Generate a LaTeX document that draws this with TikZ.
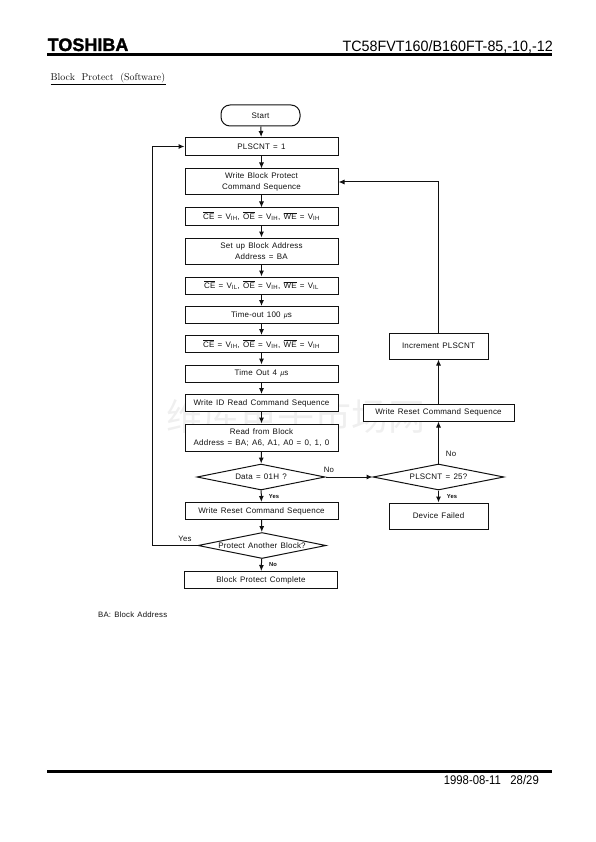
\documentclass[tikz,border=0pt]{standalone}
\usepackage{fontspec}
\usepackage{xcolor}
\usetikzlibrary{arrows.meta,shapes.geometric}
\setmainfont[LetterSpace=2.5,WordSpace=1.35]{Liberation Sans}
\newfontfamily\plainfont{Liberation Sans}
\newfontfamily\titlefont{Latin Modern Roman}
\newfontfamily\logofont[FakeBold=1.6]{Liberation Sans Bold}
\newfontfamily\cjkfont{Noto Sans CJK SC}
\definecolor{Ink}{HTML}{111111}
\definecolor{Mark}{HTML}{EFEFEF}
\newcommand{\ovl}[1]{$\overline{\hbox{#1}}$}
\newcommand{\lvl}[2]{\ovl{#1} = V\textsubscript{#2}}
\newcommand{\usec}{{\scriptsize\itshape µ}s}

\begin{document}
\begin{tikzpicture}[x=1pt,y=-1pt,
    every node/.style={font=\fontsize{8}{10.5}\selectfont, text=Ink, align=center, inner sep=0pt},
    proc/.style={draw=Ink, fill=white, line width=1pt, minimum width=153pt},
    side/.style={draw=Ink, fill=white, line width=1pt, minimum width=99pt},
    decision/.style={draw=Ink, fill=white, diamond, line width=1pt, minimum width=128pt, minimum height=26pt},
    tag/.style={font=\fontsize{7.8}{9}\selectfont},
    smalltag/.style={font=\fontsize{5.8}{7}\bfseries\selectfont},
    arr/.style={-{Latex[length=6pt,width=5pt]}, line width=1pt, draw=Ink},
    rulebar/.style={draw=black, line width=2.2pt}
  ]
    \useasboundingbox (0,0) rectangle (595,842);
    \node[font=\cjkfont\fontsize{37}{37}\selectfont, text=Mark] (mark) at (296,416) {维库电子市场网};

    \node[font=\logofont\fontsize{18}{18}\selectfont, text=black, anchor=base west] (logo) at (47.5,51) {TOSHIBA};
    \node[font=\plainfont\fontsize{15}{15}\selectfont, text=black, xscale=0.955, anchor=base east] (part) at (553,51.5) {TC58FVT160/B160FT-85,-10,-12};
    \coordinate (topl) at (47,54.5);
    \coordinate (topr) at (552,54.5);
    \draw[rulebar] (topl) -- (topr);
    \node[font=\titlefont\fontsize{9.9}{11}\selectfont, anchor=base west] (title) at (50.5,81) {Block\ \ Protect\ \ (Software)};
    \draw[line width=1pt] (title.south west) ++(0,1.2) -- ++(115,0);

    \node[draw=Ink, fill=white, line width=1pt, rounded corners=9pt, minimum width=79pt, minimum height=21pt] (start) at (260.5,115.5) {Start};
    \node[proc, minimum height=18pt] (pls) at (261.5,146.5) {PLSCNT = 1};
    \node[proc, minimum height=26pt] (cmd) at (261.5,182) {Write Block Protect\\Command Sequence};
    \node[proc, minimum height=17pt] (ce1) at (261.5,216.5) {\lvl{CE}{IH},\ \lvl{OE}{IH},\ \lvl{WE}{IH}};
    \node[proc, minimum height=26pt] (addr) at (261.5,251) {Set up Block Address\\Address = BA};
    \node[proc, minimum height=17pt] (ce2) at (261.5,285.5) {\lvl{CE}{IL},\ \lvl{OE}{IH},\ \lvl{WE}{IL}};
    \node[proc, minimum height=17pt] (wait1) at (261.5,315) {Time-out 100 \usec};
    \node[proc, minimum height=17pt] (ce3) at (261.5,344) {\lvl{CE}{IH},\ \lvl{OE}{IH},\ \lvl{WE}{IH}};
    \node[proc, minimum height=17pt] (wait2) at (261.5,373.5) {Time Out 4 \usec};
    \node[proc, minimum height=17pt] (idread) at (261.5,403) {Write ID Read Command Sequence};
    \node[proc, minimum height=27pt] (read) at (261.5,437.5) {Read from Block\\Address = BA; A6, A1, A0 = 0, 1, 0};
    \node[decision] (data) at (261,477) {\makebox[0pt]{Data = 01H ?}};
    \node[proc, minimum height=17pt] (reset) at (261.5,511) {Write Reset Command Sequence};
    \node[decision] (more) at (262,545.5) {\makebox[0pt]{Protect Another Block?}};
    \node[proc, minimum height=17pt] (done) at (261,580) {Block Protect Complete};

    \node[decision, minimum width=131pt] (count) at (438.5,477) {\makebox[0pt]{PLSCNT = 25?}};
    \node[side, minimum height=26pt] (fail) at (438.5,516) {Device Failed};
    \node[proc, minimum width=151pt, minimum height=17pt] (reset2) at (438.5,412.5) {Write Reset Command Sequence};
    \node[side, minimum height=26pt] (inc) at (438.5,346) {Increment PLSCNT};

    \coordinate (backl) at (152,545.5);
    \coordinate (backt) at (152,146.5);
    \coordinate (loopc) at (438.5,182);

    \draw[arr] (start) -- (pls);
    \draw[arr] (pls) -- (cmd);
    \draw[arr] (cmd) -- (ce1);
    \draw[arr] (ce1) -- (addr);
    \draw[arr] (addr) -- (ce2);
    \draw[arr] (ce2) -- (wait1);
    \draw[arr] (wait1) -- (ce3);
    \draw[arr] (ce3) -- (wait2);
    \draw[arr] (wait2) -- (idread);
    \draw[arr] (idread) -- (read);
    \draw[arr] (read) -- (data);
    \draw[arr] (data) -- (reset);
    \draw[arr] (reset) -- (more);
    \draw[arr] (more) -- (done);
    \draw[arr] (data) -- (count);
    \draw[arr] (count) -- (fail);
    \draw[arr] (count) -- (reset2);
    \draw[arr] (reset2) -- (inc);
    \draw[arr] (inc) -- (loopc) -- (cmd);
    \draw[arr] (more) -- (backl) -- (backt) -- (pls);

    \node[tag] (nodata) at (329,470) {No};
    \node[smalltag] (yesdata) at (274,497) {Yes};
    \node[tag] (yesmore) at (185,538.5) {Yes};
    \node[smalltag] (nomore) at (273,565) {No};
    \node[tag] (nocount) at (451,454) {No};
    \node[smalltag] (yescount) at (452,497) {Yes};
    \node[font=\fontsize{7.8}{9}\selectfont, anchor=west] (note) at (98,615) {BA: Block Address};

    \coordinate (botl) at (47,771.5);
    \coordinate (botr) at (552,771.5);
    \draw[rulebar] (botl) -- (botr);
    \node[font=\plainfont\fontsize{12.6}{13}\selectfont, text=black, xscale=0.9, anchor=base east] (page) at (539,784) {1998-08-11\ \ \ 28/29};
\end{tikzpicture}
\end{document}
